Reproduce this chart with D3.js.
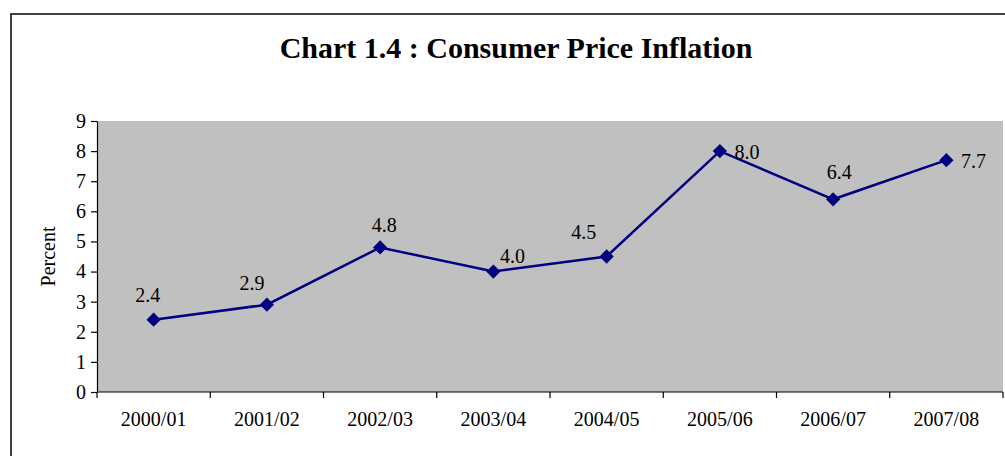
<!DOCTYPE html>
<html>
<head>
<meta charset="utf-8">
<script src="https://cdn.jsdelivr.net/npm/d3@7"></script>
<style>
  body { margin: 0; background: #fff; }
  text { font-family: "Liberation Serif", "Times New Roman", serif; fill: #000; }
</style>
</head>
<body>
<svg width="1005" height="456"></svg>
<script>
var years = ["2000/01","2001/02","2002/03","2003/04","2004/05","2005/06","2006/07","2007/08"];
var inflation = [2.4, 2.9, 4.8, 4.0, 4.5, 8.0, 6.4, 7.7];
var yTicks = [0,1,2,3,4,5,6,7,8,9];

// hand placed label nudges (dx, dy from the marker)
var labelNudge = [[-6,-25],[-15,-22],[4,-22],[19,-16],[-23,-25],[27,1],[6,-27],[27,1]];

var width = 1005, height = 456;
var plot = {left: 97, right: 1003, top: 121, bottom: 392};

var svg = d3.select("svg");

// outer frame (runs off right and bottom edge like the original)
svg.append("rect")
  .attr("x", 11).attr("y", 14)
  .attr("width", 1010).attr("height", 460)
  .attr("fill", "none")
  .attr("stroke", "#000")
  .attr("stroke-width", 1.5);

svg.append("text")
  .attr("x", 516).attr("y", 58)
  .attr("text-anchor", "middle")
  .attr("font-size", 30)
  .attr("font-weight", "bold")
  .text("Chart 1.4 : Consumer Price Inflation");

var x = d3.scaleBand()
  .domain(years)
  .range([plot.left, plot.right]);

var y = d3.scaleLinear()
  .domain([0, 9])
  .range([plot.bottom, plot.top]);

svg.append("rect")
  .attr("x", plot.left).attr("y", plot.top)
  .attr("width", plot.right - plot.left)
  .attr("height", plot.bottom - plot.top)
  .attr("fill", "#c0c0c0");

// y axis
var yAxis = svg.append("g")
  .attr("transform", "translate(" + plot.left + ",0)")
  .call(d3.axisLeft(y).tickValues(yTicks).tickSize(6).tickPadding(5).tickSizeOuter(0));
yAxis.selectAll("text").attr("font-size", 20).attr("font-family", "Liberation Serif");
yAxis.selectAll("line, path").attr("stroke", "#000").attr("stroke-width", 1.2);

// x axis, ticks sit on category boundaries
var xAxis = svg.append("g")
  .attr("transform", "translate(0," + plot.bottom + ")");
xAxis.append("line")
  .attr("x1", plot.left).attr("x2", plot.right)
  .attr("stroke", "#000").attr("stroke-width", 1.2);
var bounds = years.map(function(d){ return x(d); }).concat([x(years[years.length-1]) + x.bandwidth()]);
xAxis.selectAll(".tk")
  .data(bounds)
  .enter().append("line")
  .attr("x1", function(d){ return d; }).attr("x2", function(d){ return d; })
  .attr("y1", 0).attr("y2", 6)
  .attr("stroke", "#000").attr("stroke-width", 1.2);
xAxis.selectAll(".lbl")
  .data(years)
  .enter().append("text")
  .attr("x", function(d){ return x(d) + x.bandwidth()/2; })
  .attr("y", 34)
  .attr("text-anchor", "middle")
  .attr("font-size", 20)
  .text(function(d){ return d; });

svg.append("text")
  .attr("transform", "translate(55," + ((plot.top + plot.bottom)/2) + ") rotate(-90)")
  .attr("text-anchor", "middle")
  .attr("font-size", 20)
  .text("Percent");

var cx = function(d, i){ return x(years[i]) + x.bandwidth()/2; };

var line = d3.line()
  .x(function(d, i){ return cx(d, i); })
  .y(function(d){ return y(d); });

svg.append("path")
  .datum(inflation)
  .attr("d", line)
  .attr("fill", "none")
  .attr("stroke", "#000080")
  .attr("stroke-width", 2.5);

svg.selectAll(".pt")
  .data(inflation)
  .enter().append("path")
  .attr("d", d3.symbol().type(d3.symbolDiamond2).size(130))
  .attr("transform", function(d, i){ return "translate(" + cx(d, i) + "," + y(d) + ")"; })
  .attr("fill", "#000080");

svg.selectAll(".val")
  .data(inflation)
  .enter().append("text")
  .attr("x", function(d, i){ return cx(d, i) + labelNudge[i][0]; })
  .attr("y", function(d, i){ return y(d) + labelNudge[i][1]; })
  .attr("dy", "0.35em")
  .attr("text-anchor", "middle")
  .attr("font-size", 20)
  .text(function(d){ return d.toFixed(1); });
</script>
</body>
</html>
